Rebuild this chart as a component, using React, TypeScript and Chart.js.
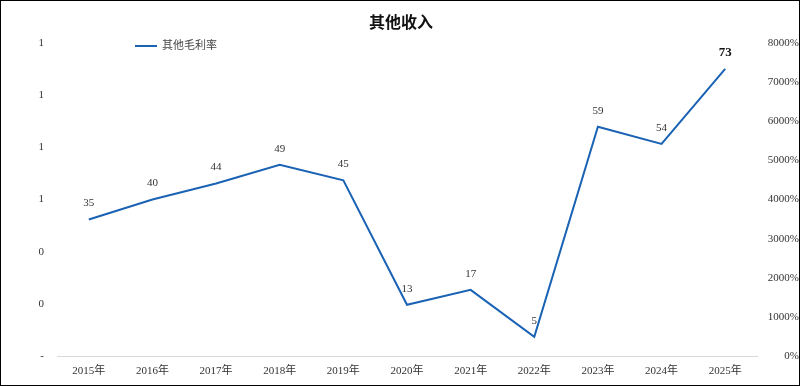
import React, { useEffect, useRef } from "react";
import { Chart, registerables } from "chart.js";

Chart.register(...registerables);

const categories = ["2015年", "2016年", "2017年", "2018年", "2019年", "2020年", "2021年", "2022年", "2023年", "2024年", "2025年"];
const grossMargin = [34.9, 40.0, 44.1, 48.9, 44.9, 13.1, 16.9, 4.9, 58.6, 54.2, 73.4];
const seriesName = "其他毛利率";
const titleText = "其他收入";
const leftTicks = { min: 0, max: 1.2, step: 0.2 };
const rightTicks = { min: 0, max: 80, step: 10 };

const LINE_COLOR = "#1a62b4";
const FONT = "'Liberation Serif', 'Noto Sans CJK SC', serif";

export default function App() {
  const ref = useRef<HTMLCanvasElement | null>(null);

  useEffect(() => {
    document.body.style.margin = "0";
    const canvas = ref.current;
    if (!canvas) return;

    const overlay = {
      id: "overlay",
      afterDatasetsDraw(chart: any) {
        const ctx = chart.ctx;
        const meta = chart.getDatasetMeta(0);
        ctx.save();
        ctx.textAlign = "center";
        ctx.textBaseline = "middle";
        meta.data.forEach((pt: any, i: number) => {
          const last = i === grossMargin.length - 1;
          ctx.fillStyle = last ? "#111" : "#333";
          ctx.font = last ? `bold 13px ${FONT}` : `11px ${FONT}`;
          ctx.fillText(String(Math.round(grossMargin[i])), pt.x, pt.y - 16);
        });
        ctx.restore();
      },
      afterDraw(chart: any) {
        const ctx = chart.ctx;
        const area = chart.chartArea;
        ctx.save();
        // title
        ctx.fillStyle = "#111";
        ctx.font = `bold 16px ${FONT}`;
        ctx.textAlign = "center";
        ctx.textBaseline = "middle";
        ctx.fillText(titleText, chart.width / 2 + 1, 23);
        // legend
        const lx = area.left + 78;
        const ly = area.top + 3;
        ctx.strokeStyle = LINE_COLOR;
        ctx.lineWidth = 2;
        ctx.beginPath();
        ctx.moveTo(lx, ly);
        ctx.lineTo(lx + 22, ly);
        ctx.stroke();
        ctx.fillStyle = "#444";
        ctx.font = `11px ${FONT}`;
        ctx.textAlign = "left";
        ctx.fillText(seriesName, lx + 27, ly);
        ctx.restore();
      },
    };

    const chart = new Chart(canvas, {
      type: "line",
      data: {
        labels: categories,
        datasets: [
          {
            label: seriesName,
            data: grossMargin,
            yAxisID: "y1",
            borderColor: LINE_COLOR,
            backgroundColor: LINE_COLOR,
            borderWidth: 2,
            pointRadius: 0,
            tension: 0,
          },
        ],
      },
      options: {
        animation: false,
        responsive: true,
        maintainAspectRatio: false,
        layout: { padding: { top: 42, left: 0, right: 0, bottom: 0 } },
        plugins: {
          legend: { display: false },
          title: { display: false },
          tooltip: { enabled: false },
        },
        scales: {
          x: {
            offset: true,
            grid: { display: false, drawTicks: false },
            border: { display: true, color: "#d9d9d9", width: 1 },
            ticks: {
              color: "#333",
              font: { family: FONT, size: 11 },
              padding: 9,
              maxRotation: 0,
              autoSkip: false,
            },
            afterFit: (s: any) => {
              s.height = 29;
            },
          },
          y: {
            position: "left",
            min: leftTicks.min,
            max: leftTicks.max,
            grid: { display: false, drawTicks: false },
            border: { display: false },
            ticks: {
              stepSize: leftTicks.step,
              color: "#333",
              font: { family: FONT, size: 11 },
              padding: 13,
              callback: (v: any) => (Math.abs(Number(v)) < 1e-9 ? "-" : String(Math.round(Number(v)))),
            },
            afterFit: (s: any) => {
              s.width = 56;
            },
          },
          y1: {
            position: "right",
            min: rightTicks.min,
            max: rightTicks.max,
            grid: { display: false, drawTicks: false },
            border: { display: false },
            ticks: {
              stepSize: rightTicks.step,
              color: "#333",
              font: { family: FONT, size: 11 },
              padding: 8,
              crossAlign: "far",
              callback: (v: any) => `${Math.round(Number(v) * 100)}%`,
            },
            afterFit: (s: any) => {
              s.width = 42;
            },
          },
        },
      },
      plugins: [overlay],
    });

    return () => chart.destroy();
  }, []);

  return (
    <div
      style={{
        width: 800,
        height: 386,
        border: "1px solid #000",
        boxSizing: "border-box",
        background: "#fff",
        position: "relative",
      }}
    >
      <div style={{ width: 798, height: 384, position: "relative" }}>
        <canvas ref={ref} />
      </div>
    </div>
  );
}
